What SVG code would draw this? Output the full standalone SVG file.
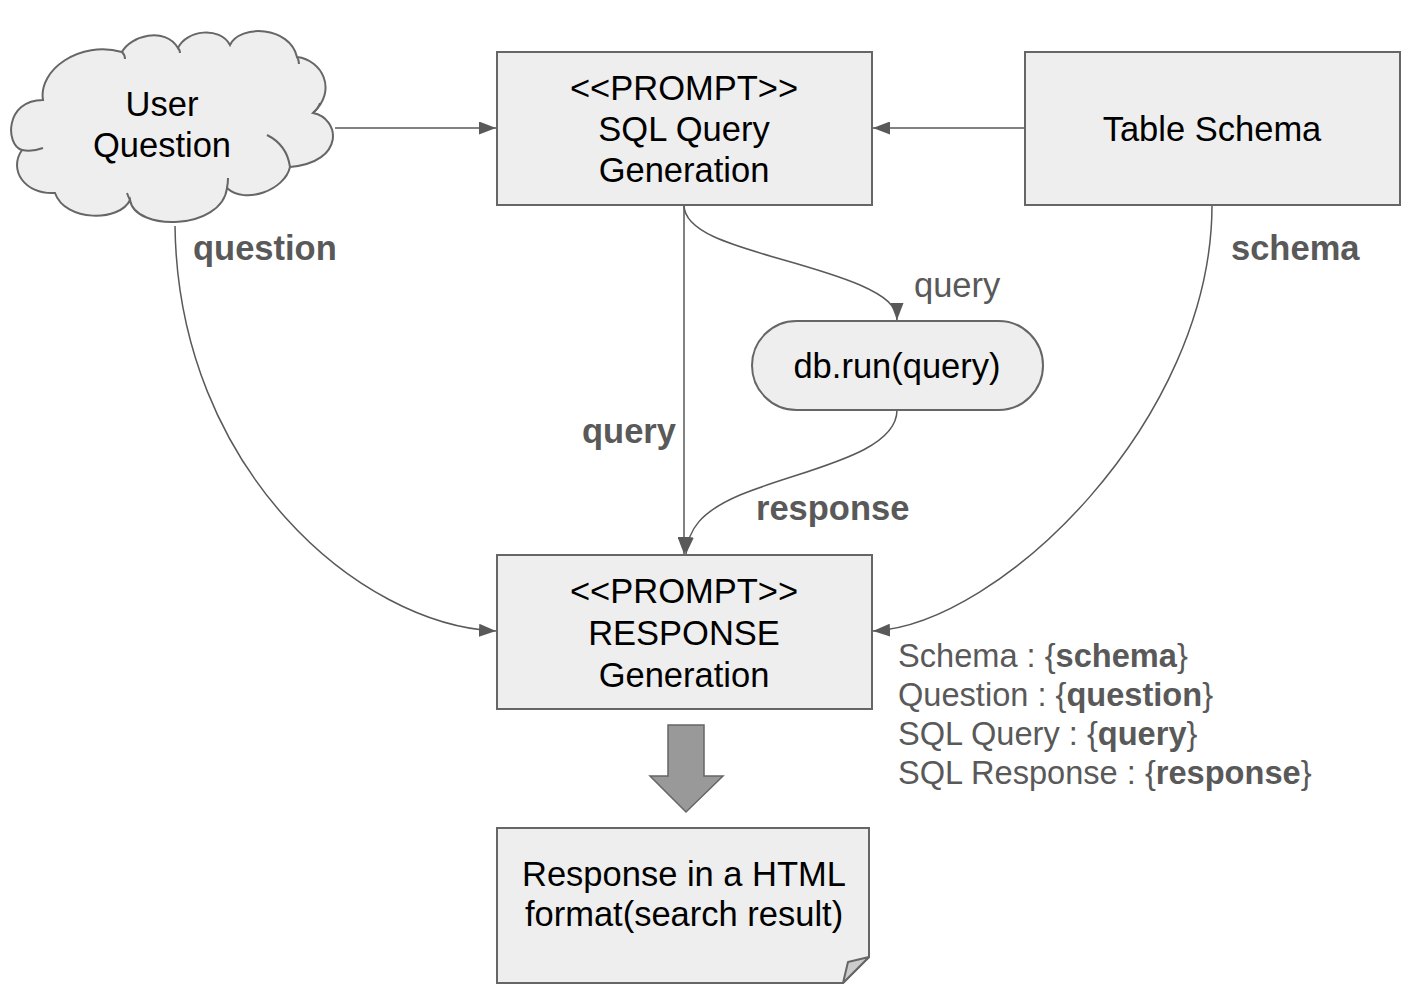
<svg xmlns="http://www.w3.org/2000/svg" width="1426" height="1000" viewBox="0 0 1426 1000">
<defs>
<marker id="ah" markerWidth="17" markerHeight="13" refX="17" refY="6.5" orient="auto" markerUnits="userSpaceOnUse">
<path d="M0,0 L17,6.5 L0,13 Z" fill="#595959"/>
</marker>
<style>
.shape{fill:#eeeeee;stroke:#666666;stroke-width:2}
.t{font-family:"Liberation Sans",Arial,sans-serif;font-size:34.5px;fill:#000;text-anchor:middle}
.lbl{font-family:"Liberation Sans",Arial,sans-serif;font-size:34.5px;fill:#595959}
.b{font-weight:bold}
.tpl{font-family:"Liberation Sans",Arial,sans-serif;font-size:32.6px;fill:#595959}
.conn{fill:none;stroke:#595959;stroke-width:1.5;marker-end:url(#ah)}
.stub{fill:none;stroke:#666666;stroke-width:2}
</style>
</defs>
<rect width="1426" height="1000" fill="#ffffff"/>

<g id="connectors">
<path class="conn" d="M335,128 L496,128"/>
<path class="conn" d="M1025,128 L873,128"/>
<path class="conn" d="M684,205 L684,554"/>
<path class="conn" d="M684,205 C684,245 790,255 860,285 C885,296 897,306 897,320"/>
<path class="conn" d="M897,410 C897,455 800,470 740,495 C700,512 688,530 686,554"/>
<path class="conn" d="M175,226 C178,470 360,625 496,631"/>
<path class="conn" d="M1212,205 C1212,420 1000,625 873,631"/>
</g>

<g id="user-question">
<path class="shape" d="M43,100 C38,70 80,40 122,52 C130,36 165,26 178,48 C186,30 220,26 230,45 C240,24 290,26 297,57 C322,60 338,90 313,113 C340,118 346,162 290,167 C285,190 245,205 227,188 C222,230 135,232 130,200 C120,222 65,222 55,193 C25,195 8,170 22,150 C5,145 5,100 43,100 Z"/>
<path class="stub" d="M122,52 Q125,55 125,59"/>
<path class="stub" d="M178,48 Q180,50 180,53"/>
<path class="stub" d="M297,57 Q299,60 299,64"/>
<path class="stub" d="M313,113 Q318,109 320,103"/>
<path class="stub" d="M267,135 Q287,145 290,167"/>
<path class="stub" d="M227,188 Q228,183 228,178"/>
<path class="stub" d="M130,200 Q128,196 127,193"/>
<path class="stub" d="M22,150 Q32,152 43,148"/>
<text class="t" x="162" y="116">User</text>
<text class="t" x="162" y="157">Question</text>
</g>

<g id="sql-query-generation">
<rect class="shape" x="497" y="52" width="375" height="153"/>
<text class="t" x="684" y="100">&lt;&lt;PROMPT&gt;&gt;</text>
<text class="t" x="684" y="141">SQL Query</text>
<text class="t" x="684" y="182">Generation</text>
</g>

<g id="table-schema">
<rect class="shape" x="1025" y="52" width="375" height="153"/>
<text class="t" x="1212" y="141">Table Schema</text>
</g>

<g id="db-run">
<rect class="shape" x="752" y="321" width="291" height="89" rx="44.5" ry="44.5"/>
<text class="t" x="897" y="378">db.run(query)</text>
</g>

<g id="response-generation">
<rect class="shape" x="497" y="555" width="375" height="154"/>
<text class="t" x="684" y="603">&lt;&lt;PROMPT&gt;&gt;</text>
<text class="t" x="684" y="645">RESPONSE</text>
<text class="t" x="684" y="687">Generation</text>
</g>

<g id="block-arrow">
<path d="M668,725 L704,725 L704,776 L723,776 L686,812 L650,776 L668,776 Z" fill="#999999" stroke="#666666" stroke-width="1.5"/>
</g>

<g id="html-response">
<path class="shape" d="M497,828 L869,828 L869,957 L843,983 L497,983 Z"/>
<path d="M843,983 L848,962 L869,957 Z" fill="#cccccc" stroke="#666666" stroke-width="2" stroke-linejoin="round"/>
<text class="t" x="684" y="886">Response in a HTML</text>
<text class="t" x="684" y="926">format(search result)</text>
</g>

<g id="labels">
<text class="lbl b" x="193" y="260">question</text>
<text class="lbl b" x="1231" y="260">schema</text>
<text class="lbl" x="914" y="297">query</text>
<text class="lbl b" x="582" y="443">query</text>
<text class="lbl b" x="756" y="520">response</text>
</g>

<g id="template">
<text class="tpl" x="898" y="667">Schema : {<tspan class="b">schema</tspan>}</text>
<text class="tpl" x="898" y="706">Question : {<tspan class="b">question</tspan>}</text>
<text class="tpl" x="898" y="745">SQL Query : {<tspan class="b">query</tspan>}</text>
<text class="tpl" x="898" y="784">SQL Response : {<tspan class="b">response</tspan>}</text>
</g>
</svg>
